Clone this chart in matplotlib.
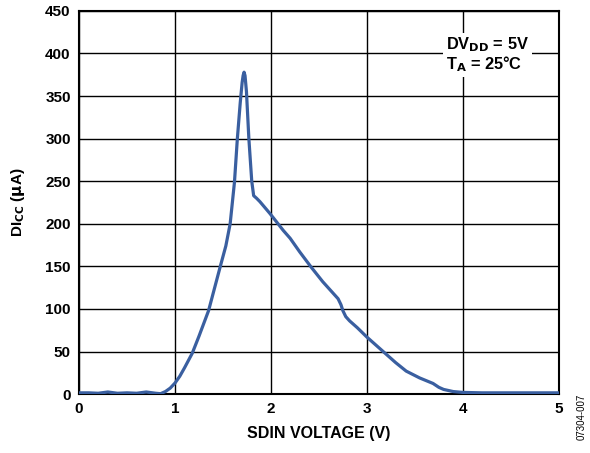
import matplotlib
matplotlib.use("Agg")
import matplotlib.pyplot as plt

plt.rcParams['font.family'] = ['Liberation Sans', 'DejaVu Sans']

# SDIN voltage (V) vs DICC (uA)
sdin_v = [0.0, 0.1, 0.2, 0.3, 0.4, 0.5, 0.6, 0.7, 0.8, 0.85, 0.9, 0.95,
          1.0, 1.05, 1.1, 1.18, 1.25, 1.35, 1.47, 1.53, 1.575, 1.62, 1.65,
          1.68, 1.70, 1.71, 1.72, 1.73, 1.745, 1.77, 1.80, 1.82, 1.85, 1.885,
          1.93, 1.99, 2.06, 2.13, 2.20, 2.30, 2.42, 2.54, 2.62, 2.70, 2.73,
          2.75, 2.78, 2.82, 2.90, 3.0, 3.1, 3.19, 3.3, 3.41, 3.55, 3.69,
          3.75, 3.80, 3.9, 4.0, 4.2, 4.5, 5.0]
dicc_ua = [1.5, 1.5, 1.0, 2.5, 1.0, 1.5, 1.0, 2.5, 1.0, 0.5, 3, 7,
           13, 21, 31, 48, 68, 98, 149, 174, 200, 249, 300,
           342, 366, 374, 378, 374, 355, 300, 250, 233, 230, 226,
           220, 212, 202, 192, 183, 167, 149, 132, 122, 112, 105,
           98, 91, 86, 78, 67, 57, 48, 37, 27, 19, 12.5,
           8, 5.5, 3, 2, 1.5, 1.5, 1.5]

x_ticks = [0, 1, 2, 3, 4, 5]
y_ticks = list(range(0, 451, 50))

fig = plt.figure(figsize=(5.9, 4.53), dpi=100)
ax = fig.add_axes([0.134, 0.130, 0.813, 0.846])

ax.plot(sdin_v, dicc_ua, color='#3a5fa0', linewidth=2.3, zorder=3)

ax.set_xlim(0, 5)
ax.set_ylim(0, 450)
ax.set_xticks(x_ticks)
ax.set_yticks(y_ticks)
ax.grid(True, color='black', linewidth=1.0)
ax.tick_params(length=0, labelsize=11, pad=6)
for lbl in ax.get_xticklabels() + ax.get_yticklabels():
    lbl.set_fontweight('bold')
for s in ax.spines.values():
    s.set_linewidth(1.5)

ax.set_xlabel('SDIN VOLTAGE (V)', fontsize=11.5, fontweight='bold', labelpad=7)
ax.set_ylabel(r'DI$_{\mathbf{CC}}$ ($\mathbf{\mu}$A)', fontsize=11,
              fontweight='bold', labelpad=13)

ax.text(0.765, 0.935, 'DV$_{\\mathbf{DD}}$ = 5V\nT$_{\\mathbf{A}}$ = 25°C',
        transform=ax.transAxes, fontsize=11.8, fontweight='bold',
        ha='left', va='top', linespacing=1.0,
        bbox=dict(facecolor='white', edgecolor='none', pad=2), zorder=4)

fig.text(0.986, 0.029, '07304-007', rotation=90, fontsize=7,
         ha='center', va='bottom')

fig.savefig('out.png', dpi=100)
